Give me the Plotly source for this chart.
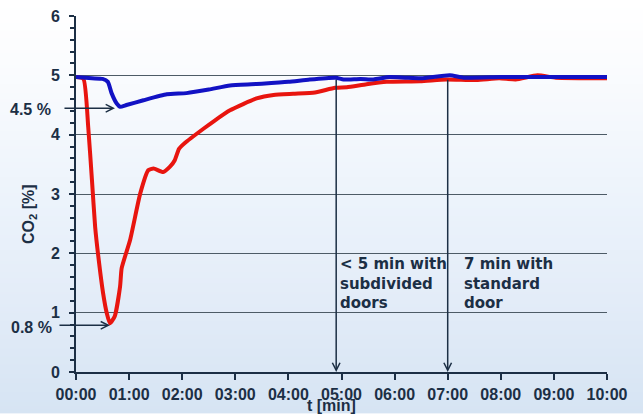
import base64, struct, zlib
import plotly.graph_objects as go

# ---------------- data ----------------
tick_vals = [0, 1, 2, 3, 4, 5, 6, 7, 8, 9, 10]
tick_text = ["00:00", "01:00", "02:00", "03:00", "04:00", "05:00",
             "06:00", "07:00", "08:00", "09:00", "10:00"]

# blue: subdivided doors
t_subdivided = [0.0, 0.3, 0.5, 0.6, 0.67, 0.77, 0.83, 0.95, 1.27, 1.71, 2.08, 2.5,
                2.9, 3.3, 3.5, 4.0, 4.4, 4.89, 5.04, 5.36, 5.6, 5.9, 6.2, 6.5,
                7.04, 7.3, 8.0, 9.0, 10.0]
co2_subdivided = [4.97, 4.95, 4.94, 4.89, 4.70, 4.52, 4.47, 4.50, 4.58, 4.68, 4.70, 4.76,
                  4.83, 4.85, 4.86, 4.89, 4.93, 4.96, 4.93, 4.94, 4.93, 4.97, 4.96, 4.95,
                  5.00, 4.96, 4.97, 4.97, 4.97]

# red: standard door
t_standard = [0.0, 0.14, 0.23, 0.30, 0.36, 0.42, 0.51, 0.58, 0.64, 0.73, 0.83, 0.86,
              1.02, 1.21, 1.36, 1.46, 1.64, 1.77, 1.86, 1.94, 2.05, 2.4, 2.6, 2.9,
              3.4, 3.72, 4.09, 4.5, 4.88, 5.10, 5.47, 5.85, 6.48, 6.97, 7.54, 7.97,
              8.28, 8.69, 9.04, 10.0]
co2_standard = [4.97, 4.94, 4.13, 3.24, 2.45, 1.95, 1.33, 0.99, 0.82, 0.94, 1.44, 1.75,
                2.23, 3.01, 3.40, 3.43, 3.37, 3.46, 3.57, 3.76, 3.86, 4.10, 4.23, 4.41,
                4.61, 4.67, 4.69, 4.71, 4.79, 4.80, 4.85, 4.89, 4.90, 4.93, 4.92, 4.95,
                4.93, 5.00, 4.96, 4.95]

min_subdivided_label = "4.5 %"
min_standard_label = "0.8 %"
note_subdivided = "&lt; 5 min with<br>subdivided<br>doors"
note_standard = "7 min with<br>standard<br>door"
t_recover_subdivided = 4.9
t_recover_standard = 7.0

# ---------------- background gradient (PNG) ----------------
def gradient_png(h=414):
    stops = [(0, (255, 255, 255)), (60, (251, 252, 254)), (200, (236, 243, 251)),
             (300, (227, 236, 248)), (414, (214, 228, 243))]
    rows = b""
    for y in range(h):
        for (y0, c0), (y1, c1) in zip(stops[:-1], stops[1:]):
            if y0 <= y <= y1:
                f = (y - y0) / (y1 - y0)
                c = tuple(int(round(a + (b - a) * f)) for a, b in zip(c0, c1))
                break
        rows += b"\x00" + bytes(c)
    def chunk(tag, data):
        return struct.pack(">I", len(data)) + tag + data + struct.pack(">I", zlib.crc32(tag + data) & 0xffffffff)
    png = b"\x89PNG\r\n\x1a\n" + chunk(b"IHDR", struct.pack(">IIBBBBB", 1, h, 8, 2, 0, 0, 0)) \
        + chunk(b"IDAT", zlib.compress(rows)) + chunk(b"IEND", b"")
    return "data:image/png;base64," + base64.b64encode(png).decode()

W, H = 643, 414
L, R, T, B = 76, 607, 15.5, 372.5
pw, ph = R - L, B - T

ink = "#1c2f45"
axis_font = dict(family="Liberation Sans, Arial, sans-serif", size=16, color=ink, weight="bold")
note_font = dict(family="DejaVu Sans, sans-serif", size=15, color=ink, weight="bold")

fig = go.Figure()
fig.add_trace(go.Scatter(x=t_standard, y=co2_standard, mode="lines",
                         line=dict(color="#e8150f", width=4, shape="spline", smoothing=0.5),
                         showlegend=False, hoverinfo="skip"))
fig.add_trace(go.Scatter(x=t_subdivided, y=co2_subdivided, mode="lines",
                         line=dict(color="#1212c4", width=4, shape="spline", smoothing=0.5),
                         showlegend=False, hoverinfo="skip"))

fig.update_layout(
    width=W, height=H,
    margin=dict(l=L, r=W - R, t=T, b=H - B, pad=0, autoexpand=False),
    paper_bgcolor="white", plot_bgcolor="rgba(0,0,0,0)",
    images=[dict(source=gradient_png(), xref="paper", yref="paper",
                 x=-L / pw, y=1 + T / ph, sizex=W / pw, sizey=H / ph,
                 xanchor="left", yanchor="top", sizing="stretch", layer="below")],
    xaxis=dict(range=[0, 10], tickvals=tick_vals, ticktext=tick_text, automargin=False,
               showgrid=False, zeroline=False, showline=True, linecolor=ink, linewidth=2,
               ticks="outside", ticklen=6, tickwidth=1.5, tickcolor=ink,
               tickfont=axis_font, ticklabelstandoff=1),
    yaxis=dict(range=[0, 6], dtick=1, showgrid=True, gridcolor="#4d5b66", gridwidth=1,
               automargin=False,
               zeroline=False, showline=True, linecolor=ink, linewidth=2,
               ticks="outside", ticklen=5, tickwidth=1.5, tickcolor=ink,
               minor=dict(dtick=0.2, ticks="outside", ticklen=4, tickwidth=1.5,
                          tickcolor=ink, showgrid=False),
               tickfont=axis_font, ticklabelstandoff=6),
)

ann = []
# axis titles
ann.append(dict(text="t [min]", xref="paper", yref="paper", x=(331 - L) / pw,
                y=(B - 406) / ph, xanchor="center", yanchor="middle",
                showarrow=False, font=axis_font))
ann.append(dict(text="CO<sub>2</sub> [%]", xref="paper", yref="paper", x=(30 - L) / pw,
                y=(B - 214) / ph, xanchor="center", yanchor="middle", textangle=-90,
                showarrow=False, font=axis_font))
# minimum labels with arrows
ann.append(dict(text=min_subdivided_label, xref="paper", yref="y", x=(53 - L) / pw,
                y=4.43, xanchor="right", yanchor="middle", showarrow=False, font=axis_font))
ann.append(dict(text="", x=0.734, y=4.445, xref="x", yref="y", ax=-52, ay=0,
                showarrow=True, arrowhead=5, arrowsize=1, arrowwidth=1.5, arrowcolor=ink, standoff=0))
ann.append(dict(text=min_standard_label, xref="paper", yref="y", x=(54 - L) / pw,
                y=0.75, xanchor="right", yanchor="middle", showarrow=False, font=axis_font))
ann.append(dict(text="", x=0.64, y=0.787, xref="x", yref="y", ax=-52, ay=0,
                showarrow=True, arrowhead=5, arrowsize=1, arrowwidth=1.5, arrowcolor=ink, standoff=0))
# vertical recovery arrows
for tr in (t_recover_subdivided, t_recover_standard):
    ann.append(dict(text="", x=tr, y=0, xref="x", yref="y", ax=tr, ay=4.95,
                    axref="x", ayref="y", showarrow=True, arrowhead=5, arrowsize=1,
                    arrowwidth=1.5, arrowcolor=ink, standoff=0))
# notes
ann.append(dict(text=note_subdivided, x=4.93, y=2.0, xref="x", yref="y", xanchor="left",
                yanchor="top", align="left", showarrow=False, font=note_font))
ann.append(dict(text=note_standard, x=7.27, y=2.0, xref="x", yref="y", xanchor="left",
                yanchor="top", align="left", showarrow=False, font=note_font))
fig.update_layout(annotations=ann)

fig.write_html("out.html", config={"displayModeBar": False},
               post_script="document.body.style.margin='0';document.body.style.overflow='hidden';")
